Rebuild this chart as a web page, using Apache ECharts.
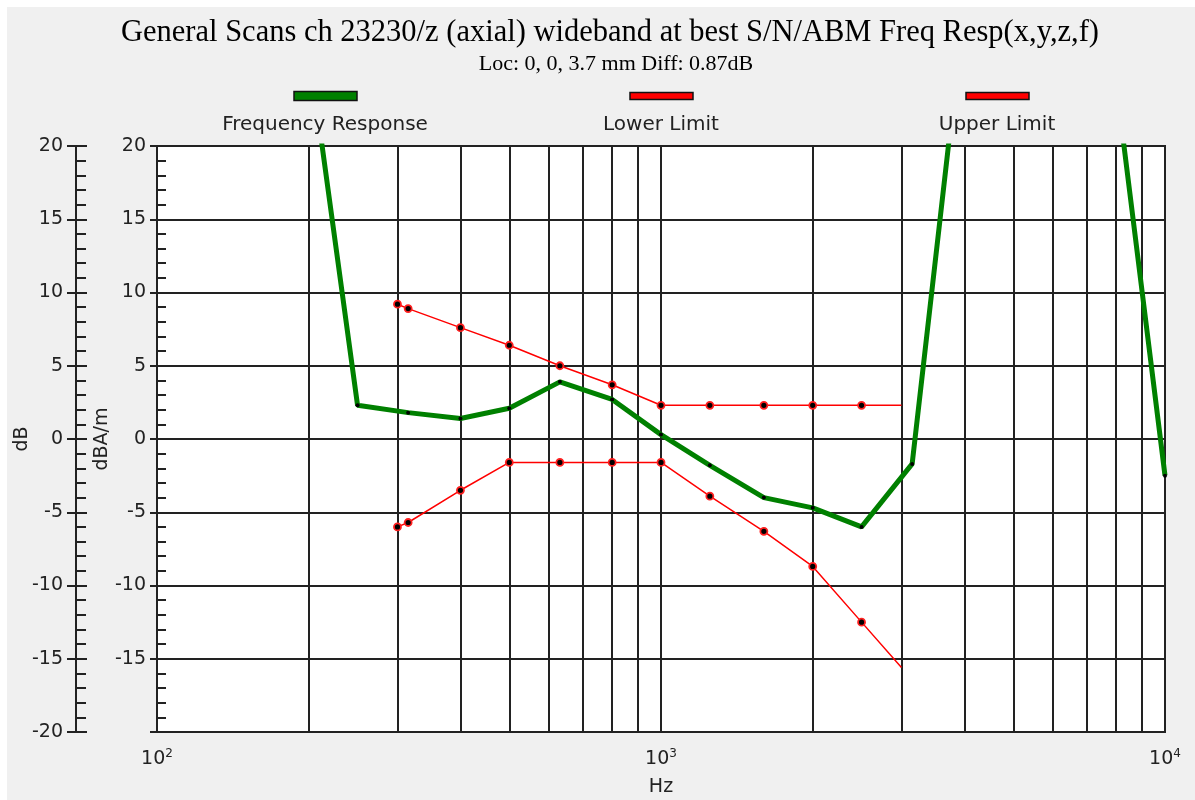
<!DOCTYPE html>
<html>
<head>
<meta charset="utf-8">
<script src="https://cdn.jsdelivr.net/npm/echarts@6/dist/echarts.min.js"></script>
<style>
html,body{margin:0;padding:0;background:#ffffff;}
#chart{width:1195px;height:800px;}
</style>
</head>
<body>
<div id="chart"></div>
<script>
// ---- data ----
var respFreqs = [200, 250, 315, 400, 500, 630, 800, 1000, 1250, 1600, 2000, 2500, 3150, 4000, 5000, 6300, 8000, 10000];
var respDb    = [26.7, 2.3, 1.8, 1.4, 2.1, 3.9, 2.7, 0.3, -1.8, -4.0, -4.7, -6.0, -1.7, 29.6, 40, 40, 24.3, -2.5];
var limitFreqs = [300, 315, 400, 500, 630, 800, 1000, 1250, 1600, 2000, 2500, 3000];
var upperDb    = [9.2, 8.9, 7.6, 6.4, 5.0, 3.7, 2.3, 2.3, 2.3, 2.3, 2.3, 2.3];
var lowerDb    = [-6.0, -5.7, -3.5, -1.6, -1.6, -1.6, -1.6, -3.9, -6.3, -8.7, -12.5, -15.6];
var minorFreqs = [200, 300, 400, 500, 600, 700, 800, 900, 2000, 3000, 4000, 5000, 6000, 7000, 8000, 9000];
var seriesNames = ['Frequency Response', 'Lower Limit', 'Upper Limit'];
var titleText = 'General Scans ch 23230/z (axial) wideband at best S/N/ABM Freq Resp(x,y,z,f)';
var subText = 'Loc: 0, 0, 3.7 mm Diff: 0.87dB';

var SANS = 'DejaVu Sans';
var INK = '#222';
var chart = echarts.init(document.getElementById('chart'));

function pairs(xs, ys) { return xs.map(function (x, i) { return [x, ys[i]]; }); }
function limitData(ys) {
  return limitFreqs.map(function (f, i) {
    return i === limitFreqs.length - 1 ? { value: [f, ys[i]], symbol: 'none' } : [f, ys[i]];
  });
}
function yLab(hideMin) {
  return function (v) { return (hideMin && v === -20) ? '' : String(v); };
}

var legendX = [325, 661, 997];
var legendColors = ['#008000', '#ff0000', '#ff0000'];
var graphics = [
  { type: 'rect', left: 7, top: 7, z: -10, shape: { width: 1188, height: 793 }, style: { fill: '#f0f0f0' } }
];
seriesNames.forEach(function (n, i) {
  var h = i === 0 ? 9 : 7;
  graphics.push({ type: 'rect', z: 10, shape: { x: legendX[i] - 31, y: 96 - h / 2, width: 63, height: h },
    style: { fill: legendColors[i], stroke: '#111', lineWidth: 1.5 } });
  graphics.push({ type: 'text', z: 10, x: legendX[i], y: 125,
    style: { text: n, fill: INK, font: '20px "' + SANS + '"', textAlign: 'center', textVerticalAlign: 'middle' } });
});

var option = {
  animation: false,
  backgroundColor: '#ffffff',
  title: [
    { text: titleText, left: 605, top: 12, textAlign: 'center',
      textStyle: { fontFamily: 'Liberation Serif', fontSize: 30.5, fontWeight: 'normal', color: '#000' } },
    { text: subText, left: 611, top: 48, textAlign: 'center',
      textStyle: { fontFamily: 'Liberation Serif', fontSize: 22, fontWeight: 'normal', color: '#000' } }
  ],
  graphic: graphics,
  grid: { left: 157, right: 30, top: 146, bottom: 68, show: true, backgroundColor: '#ffffff',
    borderColor: INK, borderWidth: 2, containLabel: false, outerBoundsMode: 'none' },
  xAxis: {
    type: 'log', logBase: 10, min: 100, max: 10000,
    name: 'Hz', nameLocation: 'middle', nameGap: 46,
    nameTextStyle: { fontFamily: SANS, fontSize: 19, color: INK },
    axisLine: { show: true, lineStyle: { color: INK, width: 2 } },
    axisTick: { show: true, length: 13, lineStyle: { color: INK, width: 2 } },
    axisLabel: { margin: 16, color: INK, fontFamily: SANS, fontSize: 19,
      formatter: function (v) { return '10{s|' + Math.round(Math.log10(v)) + '}'; },
      rich: { s: { fontSize: 12, fontFamily: SANS, color: INK, verticalAlign: 'top', padding: [0, 0, 10, 0] } } },
    splitLine: { show: true, lineStyle: { color: INK, width: 2 } },
    minorTick: { show: false }
  },
  yAxis: [
    { type: 'value', min: -20, max: 20, interval: 5, position: 'left', offset: 0,
      name: 'dBA/m', nameLocation: 'middle', nameGap: 45, nameRotate: 90, nameMoveOverlap: false,
      nameTextStyle: { fontFamily: SANS, fontSize: 19, color: INK },
      axisLine: { show: true, lineStyle: { color: INK, width: 2 } },
      axisTick: { show: true, length: 7, lineStyle: { color: INK, width: 2 } },
      axisLabel: { margin: 11, color: INK, fontFamily: SANS, fontSize: 19, formatter: yLab(true) },
      splitLine: { show: true, lineStyle: { color: INK, width: 2 } } },
    { type: 'value', min: -20, max: 20, interval: 5, position: 'left', offset: 0,
      axisLine: { show: false },
      axisTick: { show: false, inside: true },
      minorTick: { show: true, splitNumber: 5, length: 9, lineStyle: { color: INK, width: 2 } },
      axisLabel: { show: false }, splitLine: { show: false } },
    { type: 'value', min: -20, max: 20, interval: 5, position: 'left', offset: 81,
      name: 'dB', nameLocation: 'middle', nameGap: 44, nameRotate: 90, nameMoveOverlap: false,
      nameTextStyle: { fontFamily: SANS, fontSize: 19, color: INK },
      axisLine: { show: true, lineStyle: { color: INK, width: 2 } },
      axisTick: { show: true, length: 9, lineStyle: { color: INK, width: 2 } },
      axisLabel: { margin: 13, color: INK, fontFamily: SANS, fontSize: 19, formatter: yLab(false) },
      splitLine: { show: false } },
    { type: 'value', min: -20, max: 20, interval: 5, position: 'left', offset: 81,
      axisLine: { show: false },
      axisTick: { show: true, inside: true, length: 11, lineStyle: { color: INK, width: 2 } },
      minorTick: { show: true, splitNumber: 5, length: 10, lineStyle: { color: INK, width: 2 } },
      axisLabel: { show: false }, splitLine: { show: false } }
  ],
  series: [
    { name: 'minor grid', type: 'line', data: [], yAxisIndex: 0, z: 1, silent: true,
      markLine: { silent: true, z: 1, symbol: ['none', 'none'], label: { show: false },
        lineStyle: { color: INK, width: 2, type: 'solid' }, emphasis: { disabled: true },
        data: minorFreqs.map(function (f) { return { xAxis: f }; }) } },
    { name: seriesNames[1], type: 'line', yAxisIndex: 0, z: 3, clip: true,
      data: limitData(lowerDb), symbol: 'circle', symbolSize: 7,
      lineStyle: { color: '#ff0000', width: 1.5 },
      itemStyle: { color: '#000', borderColor: '#ff2020', borderWidth: 1.8 } },
    { name: seriesNames[2], type: 'line', yAxisIndex: 0, z: 3, clip: true,
      data: limitData(upperDb), symbol: 'circle', symbolSize: 7,
      lineStyle: { color: '#ff0000', width: 1.5 },
      itemStyle: { color: '#000', borderColor: '#ff2020', borderWidth: 1.8 } },
    { name: seriesNames[0], type: 'line', yAxisIndex: 0, z: 4, clip: true,
      data: pairs(respFreqs, respDb), symbol: 'circle', symbolSize: 4,
      lineStyle: { color: '#008000', width: 5 },
      itemStyle: { color: '#000', borderWidth: 0 } }
  ]
};
chart.setOption(option);
</script>
</body>
</html>
